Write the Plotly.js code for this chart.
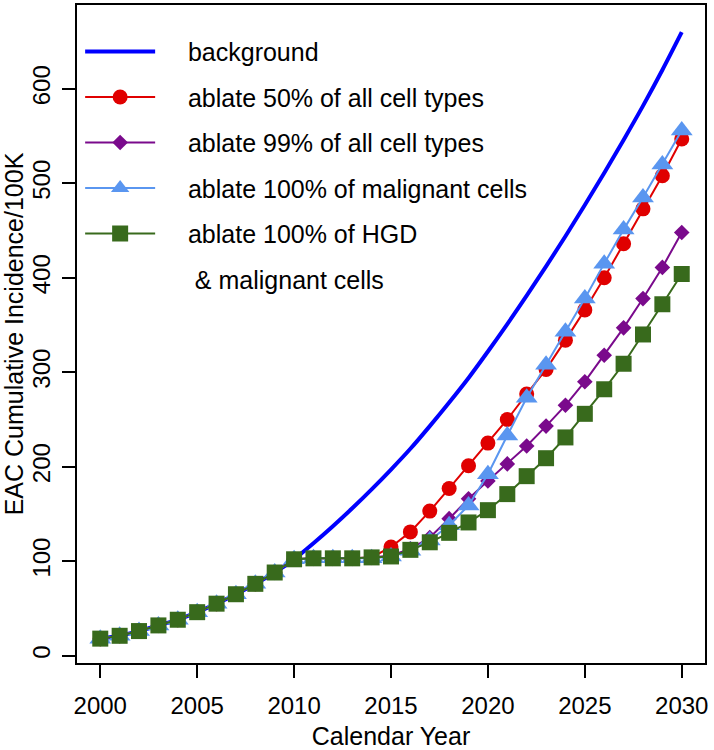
<!DOCTYPE html>
<html>
<head>
<meta charset="utf-8">
<script src="https://cdn.plot.ly/plotly-3.0.1.min.js"></script>
<style>
  html, body { margin: 0; padding: 0; background: #fff; }
  #chart { width: 714px; height: 750px; }
</style>
</head>
<body>
<div id="chart"></div>
<script>
// calendar years on the x axis
var years = [2000, 2001, 2002, 2003, 2004, 2005, 2006, 2007, 2008, 2009, 2010,
             2011, 2012, 2013, 2014, 2015, 2016, 2017, 2018, 2019, 2020,
             2021, 2022, 2023, 2024, 2025, 2026, 2027, 2028, 2029, 2030];

// EAC cumulative incidence per 100K
var background = [18, 21, 26, 32, 38, 46, 55, 65, 76, 88, 102,
                  119, 137, 156, 176, 197, 219, 243, 268, 294, 322,
                  351, 381, 412, 444, 477, 511, 546, 582, 620, 660];
var ablate50 = [18, 21, 26, 32, 38, 46, 55, 65, 76, 88, 102,
                103, 103, 103, 104, 115, 131, 153, 177, 201, 225,
                250, 277, 303, 334, 366, 400, 436, 473, 508, 547];
var ablate99 = [18, 21, 26, 32, 38, 46, 55, 65, 76, 88, 102,
                103, 103, 103, 104, 106, 113, 125, 145, 166, 185,
                203, 222, 243, 265, 290, 318, 347, 378, 411, 448];
var ablateMalig = [18, 21, 26, 32, 38, 46, 55, 65, 76, 88, 102,
                   103, 103, 103, 103, 105, 111, 122, 138, 159, 192,
                   233, 273, 308, 343, 378, 415, 451, 485, 520, 556];
var ablateHGD = [18, 21, 26, 32, 38, 46, 55, 65, 76, 88, 102,
                 103, 103, 103, 104, 105, 112, 120, 130, 141, 154,
                 171, 190, 209, 231, 256, 282, 309, 340, 372, 404];

var names = ['background', 'ablate 50% of all cell types', 'ablate 99% of all cell types',
             'ablate 100% of malignant cells', 'ablate 100% of HGD', '\u00a0& malignant cells'];

var xTicks = [2000, 2005, 2010, 2015, 2020, 2025, 2030];
var yTicks = [0, 100, 200, 300, 400, 500, 600];

var FONT = 'Arial, "Liberation Sans", sans-serif';
var PAD = '\u00a0\u00a0\u00a0\u00a0'; // R leaves a wider gap between key and label

var data = [
  {x: years, y: background, name: PAD + names[0], legendgroup: 'a', mode: 'lines', type: 'scatter',
   line: {color: '#0000ff', width: 4, shape: 'spline'}},
  {x: years, y: ablate50, name: PAD + names[1], legendgroup: 'b', mode: 'lines+markers', type: 'scatter',
   line: {color: '#e00000', width: 2}, marker: {symbol: 'circle', size: 15, color: '#e00000'}},
  {x: years, y: ablate99, name: PAD + names[2], legendgroup: 'c', mode: 'lines+markers', type: 'scatter',
   line: {color: '#7a0a8c', width: 2}, marker: {symbol: 'diamond', size: 12, color: '#7a0a8c'}},
  {x: years, y: ablateMalig, name: PAD + names[3], legendgroup: 'd', mode: 'lines+markers', type: 'scatter',
   line: {color: '#5a96f0', width: 2}, marker: {symbol: 'triangle-up', size: 19, color: '#5a96f0'}},
  {x: years, y: ablateHGD, name: PAD + names[4], legendgroup: 'e', mode: 'lines+markers', type: 'scatter',
   line: {color: '#386a1c', width: 2}, marker: {symbol: 'square', size: 16, color: '#386a1c'}},
  // second line of the last legend label (no visible key)
  {x: [null], y: [null], name: PAD + names[5], legendgroup: 'f', mode: 'lines', type: 'scatter',
   line: {color: 'rgba(0,0,0,0)', width: 1}, hoverinfo: 'skip'}
];

var layout = {
  width: 714,
  height: 750,
  paper_bgcolor: '#ffffff',
  plot_bgcolor: '#ffffff',
  margin: {l: 77, r: 9, t: 5, b: 87},
  font: {family: FONT, size: 24, color: '#000000'},
  showlegend: true,
  legend: {
    x: 0.005, y: 0.964, xanchor: 'left', yanchor: 'top',
    bgcolor: 'rgba(0,0,0,0)',
    font: {family: FONT, size: 25, color: '#000000'},
    traceorder: 'grouped',
    tracegroupgap: 10,
    itemwidth: 70
  },
  xaxis: {
    title: {text: 'Calendar Year', font: {size: 25}, standoff: 10},
    range: [1998.8, 2031.2],
    tickvals: xTicks,
    tickfont: {family: FONT, size: 24},
    ticks: 'outside', ticklen: 13, tickwidth: 2, tickcolor: '#000',
    showgrid: false, zeroline: false,
    showline: true, linewidth: 2, linecolor: '#000', mirror: true,
    ticklabelstandoff: 7
  },
  yaxis: {
    title: {text: 'EAC Cumulative Incidence/100K', font: {size: 25}, standoff: 12},
    range: [-7.8, 688.8],
    tickvals: yTicks,
    tickangle: -90,
    tickfont: {family: FONT, size: 24},
    ticks: 'outside', ticklen: 13, tickwidth: 2, tickcolor: '#000',
    showgrid: false, zeroline: false,
    showline: true, linewidth: 2, linecolor: '#000', mirror: true,
    ticklabelstandoff: 2
  }
};

var config = {
  displayModeBar: false,
  displaylogo: false,
  responsive: false
};

Plotly.newPlot('chart', data, layout, config);
</script>
</body>
</html>
